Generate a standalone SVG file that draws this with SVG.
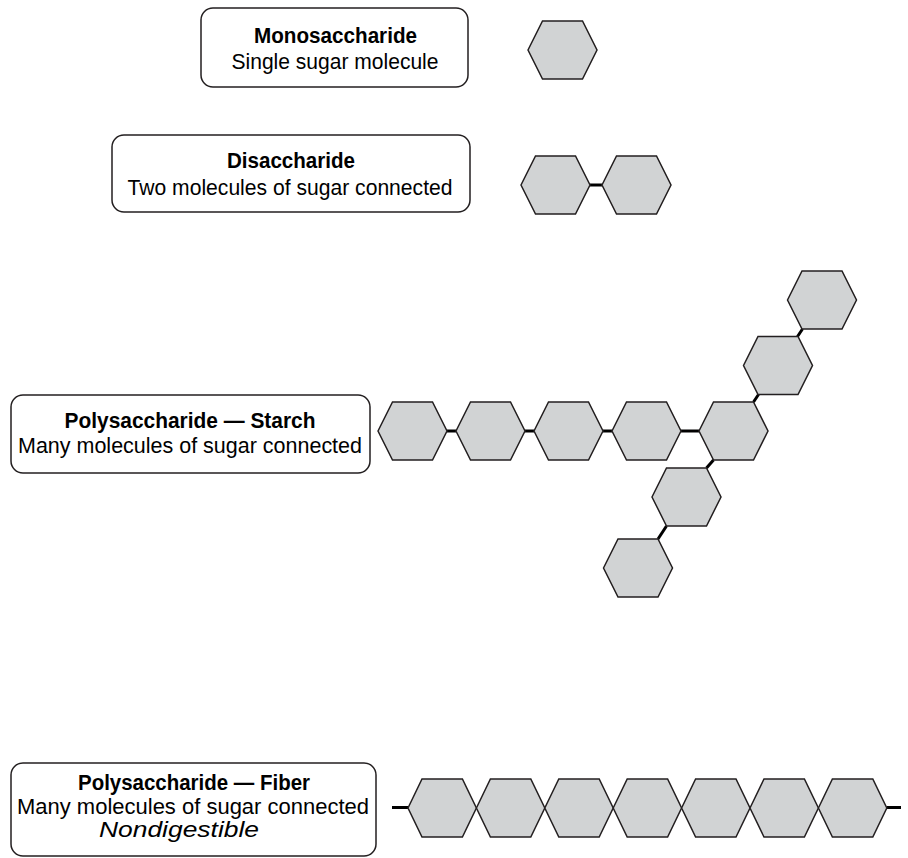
<svg xmlns="http://www.w3.org/2000/svg" width="908" height="858" viewBox="0 0 908 858">
  <style>
    .box { fill: #ffffff; stroke: #231f20; stroke-width: 1.5; }
    .hex { fill: #d1d3d4; stroke: #231f20; stroke-width: 1.5; stroke-linejoin: miter; }
    .bond { stroke: #000000; stroke-width: 3; fill: none; }
    .t { font-family: "Liberation Sans", Arial, sans-serif; font-size: 22px; fill: #000000; text-anchor: middle; }
    .b { font-weight: bold; }
    .i { font-style: italic; }
  </style>
  <defs>
    <polygon id="hx" points="-34.5,0 -20,-29 20,-29 34.5,0 20,29 -20,29"/>
    <polygon id="hf" points="-34.2,0 -20.2,-29 20.2,-29 34.2,0 20.2,29 -20.2,29"/>
  </defs>

  <g id="connectors">
    <line class="bond" x1="590" y1="185" x2="602" y2="185"/>
    <line class="bond" x1="447" y1="431" x2="456" y2="431"/>
    <line class="bond" x1="525" y1="431" x2="534" y2="431"/>
    <line class="bond" x1="603" y1="431" x2="612" y2="431"/>
    <line class="bond" x1="681" y1="431" x2="699" y2="431"/>
    <line class="bond" x1="753.5" y1="402" x2="758.5" y2="394.5"/>
    <line class="bond" x1="797.5" y1="336.5" x2="802.5" y2="329"/>
    <line class="bond" x1="713.5" y1="460" x2="706.5" y2="468"/>
    <line class="bond" x1="666.5" y1="526" x2="658" y2="539"/>
    <line class="bond" x1="392" y1="807.5" x2="408" y2="807.5"/>
    <line class="bond" x1="886.8" y1="807.5" x2="901" y2="807.5"/>
  </g>

  <g id="monosaccharide">
    <rect class="box" x="201" y="8" width="267" height="79" rx="12"/>
    <text class="t b" x="335.5" y="43" textLength="163" lengthAdjust="spacingAndGlyphs">Monosaccharide</text>
    <text class="t" x="335" y="69" textLength="207" lengthAdjust="spacingAndGlyphs">Single sugar molecule</text>
  </g>
  <g id="mono-molecule">
    <use href="#hx" class="hex" x="562.5" y="50"/>
  </g>

  <g id="disaccharide">
    <rect class="box" x="112" y="135" width="358" height="77" rx="12"/>
    <text class="t b" x="291" y="168" textLength="128" lengthAdjust="spacingAndGlyphs">Disaccharide</text>
    <text class="t" x="290" y="195" textLength="325" lengthAdjust="spacingAndGlyphs">Two molecules of sugar connected</text>
  </g>
  <g id="di-molecule">
    <use href="#hx" class="hex" x="555.5" y="185"/>
    <use href="#hx" class="hex" x="636.5" y="185"/>
  </g>

  <g id="starch">
    <rect class="box" x="11" y="395" width="359" height="78" rx="12"/>
    <text class="t b" x="190" y="428" textLength="251" lengthAdjust="spacingAndGlyphs">Polysaccharide — Starch</text>
    <text class="t" x="190" y="453" textLength="344" lengthAdjust="spacingAndGlyphs">Many molecules of sugar connected</text>
  </g>
  <g id="starch-molecule">
    <use href="#hx" class="hex" x="412.5" y="431"/>
    <use href="#hx" class="hex" x="490.5" y="431"/>
    <use href="#hx" class="hex" x="568.5" y="431"/>
    <use href="#hx" class="hex" x="646.5" y="431"/>
    <use href="#hx" class="hex" x="733.5" y="431"/>
    <use href="#hx" class="hex" x="778" y="365.5"/>
    <use href="#hx" class="hex" x="822" y="300"/>
    <use href="#hx" class="hex" x="686.5" y="497"/>
    <use href="#hx" class="hex" x="638" y="568"/>
  </g>

  <g id="fiber">
    <rect class="box" x="11" y="763" width="365" height="93" rx="12"/>
    <text class="t b" x="194" y="790" textLength="232" lengthAdjust="spacingAndGlyphs">Polysaccharide — Fiber</text>
    <text class="t" x="193" y="814" textLength="352" lengthAdjust="spacingAndGlyphs">Many molecules of sugar connected</text>
    <text class="t i" x="179" y="837" textLength="160" lengthAdjust="spacingAndGlyphs">Nondigestible</text>
  </g>
  <g id="fiber-molecule">
    <use href="#hf" class="hex" x="442.2" y="808"/>
    <use href="#hf" class="hex" x="510.6" y="808"/>
    <use href="#hf" class="hex" x="579" y="808"/>
    <use href="#hf" class="hex" x="647.4" y="808"/>
    <use href="#hf" class="hex" x="715.8" y="808"/>
    <use href="#hf" class="hex" x="784.2" y="808"/>
    <use href="#hf" class="hex" x="852.6" y="808"/>
  </g>
</svg>
